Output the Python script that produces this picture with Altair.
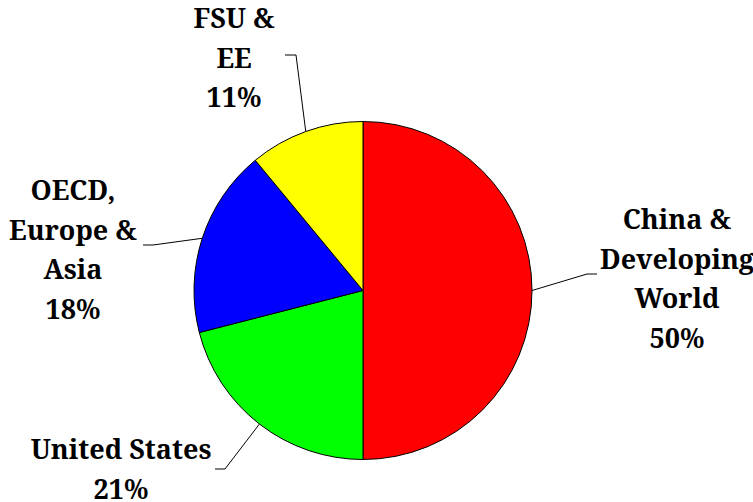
import math
import altair as alt
import pandas as pd

# ---- data ----
regions = ["China & Developing World", "United States", "OECD, Europe & Asia", "FSU & EE"]
labels = ["China &\nDeveloping\nWorld\n50%", "United States\n21%",
          "OECD,\nEurope &\nAsia\n18%", "FSU &\nEE\n11%"]
shares = [50, 21, 18, 11]
colors = ["#ff0000", "#00ff00", "#0000ff", "#ffff00"]

# ---- layout (pixels) ----
W, H = 753, 502
CX, CY, R = 363, 290.5, 169
label_x = [677, 121, 73, 234]
label_y = [229, 459, 200, 28]
elbow_x = [587, 225, 153, 296]
elbow_y = [274, 469, 245, 55]
end_x = [597, 215, 143, 285]

order = list(range(len(regions)))
pie_df = pd.DataFrame({"region": regions, "share": shares, "order": order})

# leader lines: start on the rim at each slice's mid-angle
total = sum(shares)
rows = []
cum = 0
for i, (reg, s) in enumerate(zip(regions, shares)):
    mid = (cum + s / 2) / total * 2 * math.pi
    cum += s
    rx = CX + R * math.sin(mid)
    ry = CY - R * math.cos(mid)
    rows.append({"region": reg, "step": 0, "px": rx, "py": ry})
    rows.append({"region": reg, "step": 1, "px": elbow_x[i], "py": elbow_y[i]})
    rows.append({"region": reg, "step": 2, "px": end_x[i], "py": elbow_y[i]})
lines_df = pd.DataFrame(rows)

lab_df = pd.DataFrame({"label": labels, "lx": label_x, "ly": label_y})

xs = alt.Scale(domain=[0, W], range=[0, W])
ys = alt.Scale(domain=[0, H], range=[0, H])

FONT = "Noto Serif"

pie = alt.Chart(pie_df).mark_arc(radius=R, stroke="black", strokeWidth=1).encode(
    theta=alt.Theta("share:Q", stack=True),
    color=alt.Color("region:N", scale=alt.Scale(domain=regions, range=colors), legend=None),
    order=alt.Order("order:Q"),
    x=alt.value(CX),
    y=alt.value(CY),
)

leaders = alt.Chart(lines_df).mark_line(color="black", strokeWidth=1).encode(
    x=alt.X("px:Q", scale=xs, axis=None),
    y=alt.Y("py:Q", scale=ys, axis=None),
    detail="region:N",
    order="step:Q",
)

texts = alt.Chart(lab_df).mark_text(
    font=FONT, fontWeight="bold", fontSize=27,
    lineBreak="\n", lineHeight=39.5, align="center", baseline="alphabetic", color="black",
).encode(
    x=alt.X("lx:Q", scale=xs, axis=None),
    y=alt.Y("ly:Q", scale=ys, axis=None),
    text="label:N",
)

chart = alt.layer(pie, leaders, texts).resolve_scale(color="independent").properties(
    width=W, height=H, autosize=alt.AutoSizeParams(type="none"), padding=0,
).configure(background="white").configure_view(stroke=None)

chart.save("out.html", embed_options={"renderer": "svg", "actions": False})
